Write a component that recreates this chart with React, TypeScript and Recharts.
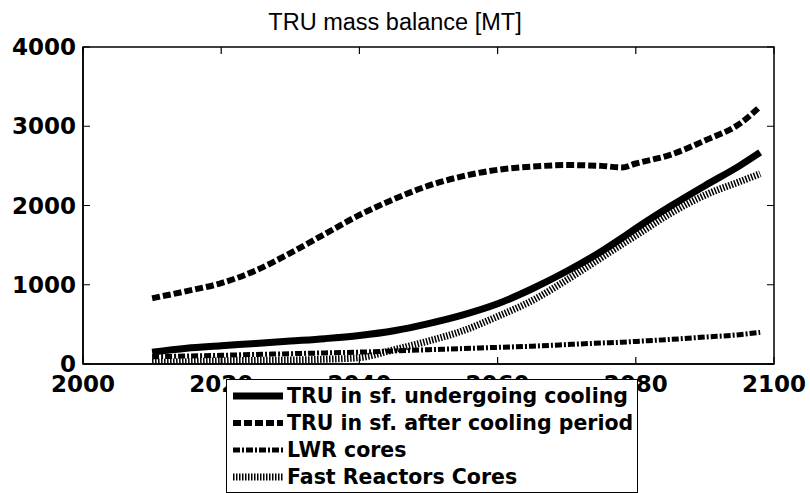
import React from "react";
import { LineChart, Line, XAxis, YAxis, Legend, ReferenceArea } from "recharts";

const years = [2010, 2015, 2020, 2025, 2030, 2035, 2040, 2045, 2050, 2055, 2060, 2065, 2070, 2075, 2078, 2080, 2085, 2090, 2095, 2098];
const cooling = [150, 200, 230, 260, 290, 320, 360, 420, 510, 620, 760, 950, 1170, 1420, 1590, 1710, 1990, 2250, 2500, 2670];
const afterCooling = [830, 920, 1020, 1180, 1400, 1640, 1880, 2080, 2250, 2370, 2450, 2490, 2510, 2500, 2480, 2530, 2640, 2820, 3030, 3250];
const lwrCores = [90, 100, 110, 120, 130, 140, 150, 165, 180, 195, 210, 225, 245, 265, 275, 285, 310, 340, 370, 400];
const fastCores = [20, 30, 40, 45, 50, 60, 80, 180, 290, 420, 600, 800, 1060, 1340, 1510, 1620, 1900, 2130, 2300, 2400];

const xTicks = [2000, 2020, 2040, 2060, 2080, 2100];
const yTicks = [0, 1000, 2000, 3000, 4000];

const data = years.map((year, i) => ({
  year,
  cooling: cooling[i],
  afterCooling: afterCooling[i],
  lwrCores: lwrCores[i],
  fastCores: fastCores[i],
}));

const series = [
  { key: "cooling", name: "TRU in sf. undergoing cooling", width: 7, dash: undefined },
  { key: "afterCooling", name: "TRU in sf. after cooling period", width: 6, dash: "8 3" },
  { key: "lwrCores", name: "LWR cores", width: 5, dash: "7 2 2 2" },
  { key: "fastCores", name: "Fast Reactors Cores", width: 7, dash: "1.5 1.5" },
];

const W = 810;
const H = 493;
const margin = { top: 47, right: 36, left: 8, bottom: 89 };
const plotTop = margin.top;
const plotRight = W - margin.right;

const tickFont = { fontFamily: "DejaVu Sans", fontWeight: "bold", fontSize: 23, fill: "#000" } as const;

// matlab style: ticks point inwards and are mirrored on top / right
const BottomTick = (props: any) => {
  const { x, y, payload } = props;
  return (
    <g>
      <path d={`M${x},${y}V${y - 7}M${x},${plotTop}V${plotTop + 7}`} stroke="#000" strokeWidth={1.2} fill="none" />
      <text x={x} y={y + 28} textAnchor="middle" {...tickFont}>{payload.value}</text>
    </g>
  );
};

const LeftTick = (props: any) => {
  const { x, y, payload } = props;
  return (
    <g>
      <path d={`M${x},${y}H${x + 7}M${plotRight},${y}H${plotRight - 7}`} stroke="#000" strokeWidth={1.2} fill="none" />
      <text x={x - 7} y={y + 8} textAnchor="end" {...tickFont}>{payload.value}</text>
    </g>
  );
};

const renderLegend = () => (
  <div
    style={{
      background: "#fff",
      border: "1.5px solid #000",
      boxSizing: "border-box",
      width: 412,
      height: 114,
      padding: "2px 0 0 6px",
    }}
  >
    {series.map((s) => (
      <div key={s.key} style={{ display: "flex", alignItems: "center", height: 27 }}>
        <svg width={50} height={12}>
          <line x1={0} y1={6} x2={50} y2={6} stroke="#000" strokeWidth={s.width} strokeDasharray={s.dash} />
        </svg>
        <span style={{ marginLeft: 4, fontFamily: "DejaVu Sans", fontWeight: "bold", fontSize: 20.5, color: "#000", whiteSpace: "nowrap" }}>
          {s.name}
        </span>
      </div>
    ))}
  </div>
);

export default function App() {
  return (
    <div style={{ position: "absolute", left: 0, top: 0, width: W, height: H, background: "#fff" }}>
      <LineChart width={W} height={H} data={data} margin={margin}>
        <text x={395} y={30} textAnchor="middle" fontFamily="Liberation Sans" fontSize={23.5} fill="#000">
          TRU mass balance [MT]
        </text>
        <XAxis
          dataKey="year"
          type="number"
          domain={[2000, 2100]}
          ticks={xTicks}
          allowDataOverflow
          height={40}
          tickSize={0}
          tickMargin={0}
          tick={<BottomTick />}
          tickLine={false}
          axisLine={{ stroke: "#000", strokeWidth: 1.5 }}
        />
        <YAxis
          type="number"
          domain={[0, 4000]}
          ticks={yTicks}
          allowDataOverflow
          width={75}
          tickSize={0}
          tickMargin={0}
          tick={<LeftTick />}
          tickLine={false}
          axisLine={{ stroke: "#000", strokeWidth: 1.5 }}
        />
        <ReferenceArea x1={2000} x2={2100} y1={0} y2={4000} fill="#fff" fillOpacity={0} stroke="#000" strokeWidth={1.5} ifOverflow="visible" />
        {series.map((s) => (
          <Line
            key={s.key}
            type="monotone"
            dataKey={s.key}
            name={s.name}
            stroke="#000"
            strokeWidth={s.width}
            strokeDasharray={s.dash}
            dot={false}
            isAnimationActive={false}
          />
        ))}
        <Legend
          layout="vertical"
          align="center"
          verticalAlign="middle"
          content={renderLegend}
          wrapperStyle={{ left: 226, top: 379, width: 412, height: 114 }}
        />
      </LineChart>
    </div>
  );
}
